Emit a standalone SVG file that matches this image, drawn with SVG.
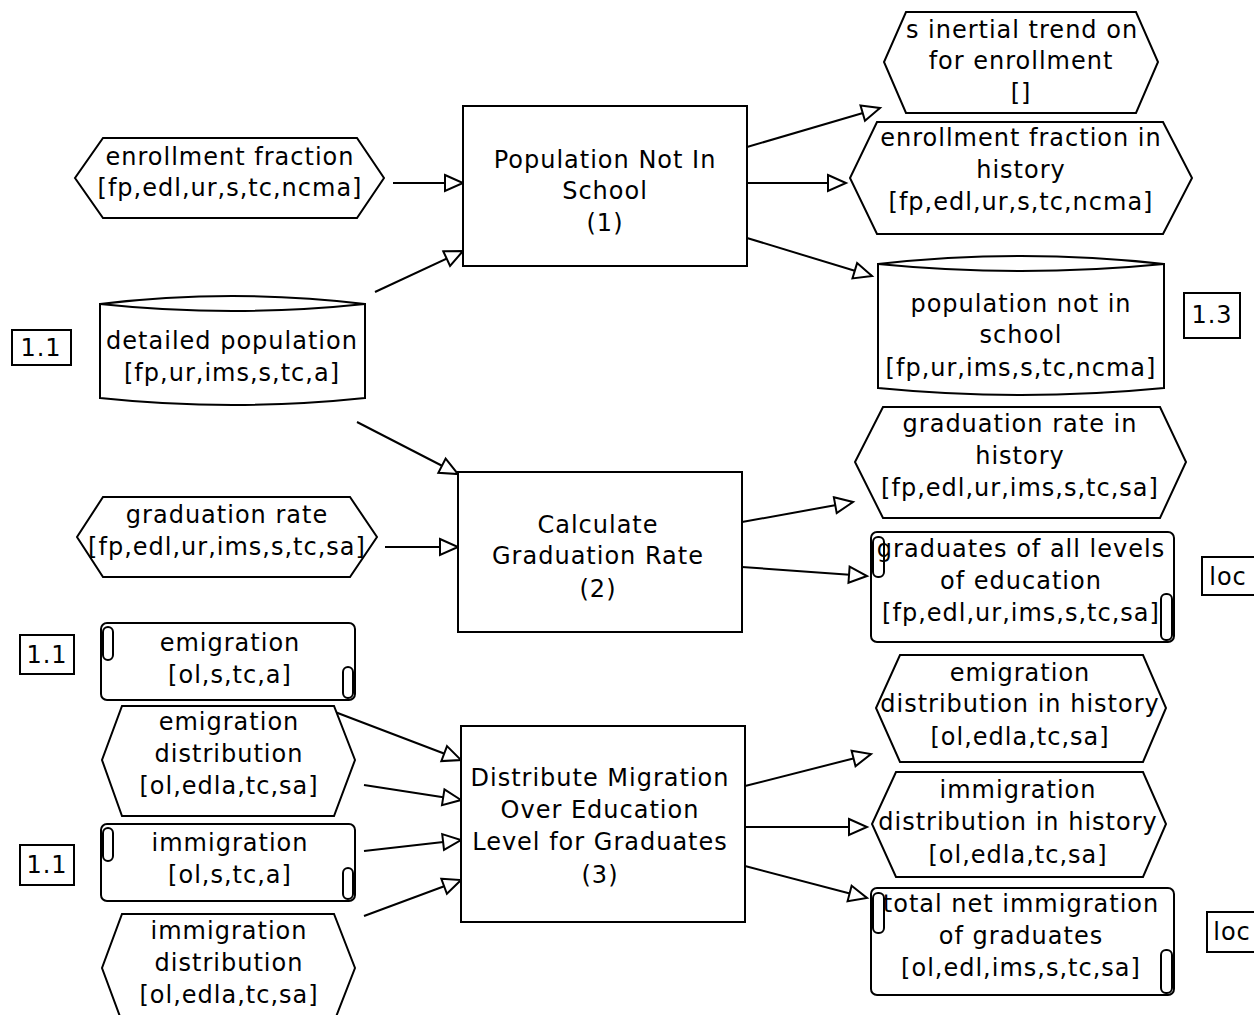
<svg xmlns="http://www.w3.org/2000/svg" width="1254" height="1015" viewBox="0 0 1254 1015">
<style>
.s{fill:#fff;stroke:#000;stroke-width:2}
.l{fill:none;stroke:#000;stroke-width:2}
.t{font-family:"DejaVu Sans","Liberation Sans",sans-serif;font-size:24px;letter-spacing:1px;fill:#000;text-anchor:middle}
.c{stroke:#000;stroke-width:2;fill:none;marker-end:url(#ah)}
</style>
<defs>
<marker id="ah" markerUnits="userSpaceOnUse" markerWidth="24" markerHeight="22" refX="19" refY="9" orient="auto" overflow="visible">
<path d="M1,1 L19,9 L1,17 Z" fill="#fff" stroke="#000" stroke-width="2"/>
</marker>
</defs>
<rect width="1254" height="1015" fill="#fff"/>

<g id="connectors">
<line class="c" x1="393" y1="183" x2="463" y2="183"/>
<line class="c" x1="375" y1="292" x2="463" y2="251"/>
<line class="c" x1="747" y1="147" x2="880" y2="108"/>
<line class="c" x1="747" y1="183" x2="846" y2="183"/>
<line class="c" x1="747" y1="238" x2="872" y2="276"/>
<line class="c" x1="357" y1="422" x2="458" y2="474"/>
<line class="c" x1="385" y1="547" x2="458" y2="547"/>
<line class="c" x1="742" y1="522" x2="853" y2="502"/>
<line class="c" x1="742" y1="567" x2="867" y2="576"/>
<line class="c" x1="335" y1="712" x2="461" y2="760"/>
<line class="c" x1="364" y1="785" x2="461" y2="800"/>
<line class="c" x1="364" y1="851" x2="461" y2="840"/>
<line class="c" x1="364" y1="916" x2="461" y2="880"/>
<line class="c" x1="745" y1="786" x2="871" y2="754"/>
<line class="c" x1="745" y1="827" x2="867" y2="827"/>
<line class="c" x1="745" y1="866" x2="867" y2="898"/>
</g>

<g id="box1">
<rect class="s" x="463" y="106" width="284" height="160"/>
<text class="t" x="605" y="168">Population Not In</text>
<text class="t" x="605" y="199">School</text>
<text class="t" x="605" y="231">(1)</text>
</g>
<g id="box2">
<rect class="s" x="458" y="472" width="284" height="160"/>
<text class="t" x="598" y="533">Calculate</text>
<text class="t" x="598" y="564">Graduation Rate</text>
<text class="t" x="598" y="597">(2)</text>
</g>
<g id="box3">
<rect class="s" x="461" y="726" width="284" height="196"/>
<text class="t" x="600" y="786">Distribute Migration</text>
<text class="t" x="600" y="818">Over Education</text>
<text class="t" x="600" y="850">Level for Graduates</text>
<text class="t" x="600" y="883">(3)</text>
</g>

<g id="enrollment-fraction">
<polygon class="s" points="103,138 357,138 384,178 357,218 103,218 75,178"/>
<text class="t" x="230" y="165">enrollment fraction</text>
<text class="t" x="230" y="196">[fp,edl,ur,s,tc,ncma]</text>
</g>

<g id="detailed-population">
<path class="s" d="M100,304 Q232,288 365,304 L365,398 Q232,412 100,398 Z"/>
<path class="l" d="M100,304 Q232,318 365,304"/>
<text class="t" x="232" y="349">detailed population</text>
<text class="t" x="232" y="381">[fp,ur,ims,s,tc,a]</text>
</g>
<g id="label-1-1-a">
<rect class="s" x="12" y="330" width="59" height="35"/>
<text class="t" x="41" y="356">1.1</text>
</g>

<g id="graduation-rate">
<polygon class="s" points="103,497 350,497 377,537 350,577 103,577 77,537"/>
<text class="t" x="227" y="523">graduation rate</text>
<text class="t" x="227" y="555">[fp,edl,ur,ims,s,tc,sa]</text>
</g>

<g id="emigration">
<rect class="s" x="101" y="623" width="254" height="77" rx="6"/>
<rect class="l" x="103" y="627" width="10" height="33" rx="5"/>
<rect class="l" x="343" y="667" width="10" height="31" rx="5"/>
<text class="t" x="230" y="651">emigration</text>
<text class="t" x="230" y="683">[ol,s,tc,a]</text>
</g>
<g id="label-1-1-b">
<rect class="s" x="20" y="635" width="54" height="39"/>
<text class="t" x="47" y="663">1.1</text>
</g>

<g id="emigration-distribution">
<polygon class="s" points="122,706 334,706 355,760 334,816 122,816 102,760"/>
<text class="t" x="229" y="730">emigration</text>
<text class="t" x="229" y="762">distribution</text>
<text class="t" x="229" y="794">[ol,edla,tc,sa]</text>
</g>

<g id="immigration">
<rect class="s" x="101" y="824" width="254" height="77" rx="6"/>
<rect class="l" x="103" y="828" width="10" height="33" rx="5"/>
<rect class="l" x="343" y="868" width="10" height="31" rx="5"/>
<text class="t" x="230" y="851">immigration</text>
<text class="t" x="230" y="883">[ol,s,tc,a]</text>
</g>
<g id="label-1-1-c">
<rect class="s" x="20" y="845" width="54" height="40"/>
<text class="t" x="47" y="873">1.1</text>
</g>

<g id="immigration-distribution">
<polygon class="s" points="122,914 334,914 355,968 334,1022 122,1022 102,968"/>
<text class="t" x="229" y="939">immigration</text>
<text class="t" x="229" y="971">distribution</text>
<text class="t" x="229" y="1003">[ol,edla,tc,sa]</text>
</g>

<g id="inertial-trend">
<polygon class="s" points="906,12 1136,12 1158,62 1136,113 906,113 884,62"/>
<text class="t" x="1022" y="38">s inertial trend on</text>
<text class="t" x="1021" y="69">for enrollment</text>
<text class="t" x="1021" y="101">[]</text>
</g>

<g id="enrollment-fraction-history">
<polygon class="s" points="877,122 1163,122 1192,178 1163,234 877,234 850,178"/>
<text class="t" x="1021" y="146">enrollment fraction in</text>
<text class="t" x="1021" y="178">history</text>
<text class="t" x="1021" y="210">[fp,edl,ur,s,tc,ncma]</text>
</g>

<g id="population-not-in-school">
<path class="s" d="M878,264 Q1021,248 1164,264 L1164,388 Q1021,402 878,388 Z"/>
<path class="l" d="M878,264 Q1021,278 1164,264"/>
<text class="t" x="1021" y="312">population not in</text>
<text class="t" x="1021" y="343">school</text>
<text class="t" x="1021" y="376">[fp,ur,ims,s,tc,ncma]</text>
</g>
<g id="label-1-3">
<rect class="s" x="1184" y="293" width="56" height="45"/>
<text class="t" x="1212" y="323">1.3</text>
</g>

<g id="graduation-rate-history">
<polygon class="s" points="883,407 1160,407 1186,462 1160,518 883,518 855,462"/>
<text class="t" x="1020" y="432">graduation rate in</text>
<text class="t" x="1020" y="464">history</text>
<text class="t" x="1020" y="496">[fp,edl,ur,ims,s,tc,sa]</text>
</g>

<g id="graduates-all-levels">
<rect class="s" x="871" y="532" width="303" height="110" rx="6"/>
<rect class="l" x="873" y="537" width="11" height="40" rx="5"/>
<rect class="l" x="1161" y="594" width="11" height="46" rx="5"/>
<text class="t" x="1021" y="557">graduates of all levels</text>
<text class="t" x="1021" y="589">of education</text>
<text class="t" x="1021" y="621">[fp,edl,ur,ims,s,tc,sa]</text>
</g>
<g id="label-loc-a">
<rect class="s" x="1202" y="557" width="62" height="38"/>
<text class="t" x="1228" y="585">loc</text>
</g>

<g id="emigration-distribution-history">
<polygon class="s" points="900,655 1143,655 1166,708 1143,762 900,762 876,708"/>
<text class="t" x="1020" y="681">emigration</text>
<text class="t" x="1020" y="712">distribution in history</text>
<text class="t" x="1020" y="745">[ol,edla,tc,sa]</text>
</g>

<g id="immigration-distribution-history">
<polygon class="s" points="896,772 1143,772 1166,824 1143,877 896,877 872,824"/>
<text class="t" x="1018" y="798">immigration</text>
<text class="t" x="1018" y="830">distribution in history</text>
<text class="t" x="1018" y="863">[ol,edla,tc,sa]</text>
</g>

<g id="total-net-immigration">
<rect class="s" x="871" y="888" width="303" height="107" rx="6"/>
<rect class="l" x="873" y="893" width="11" height="40" rx="5"/>
<rect class="l" x="1161" y="950" width="11" height="43" rx="5"/>
<text class="t" x="1021" y="912">total net immigration</text>
<text class="t" x="1021" y="944">of graduates</text>
<text class="t" x="1021" y="976">[ol,edl,ims,s,tc,sa]</text>
</g>
<g id="label-loc-b">
<rect class="s" x="1207" y="912" width="57" height="40"/>
<text class="t" x="1232" y="940">loc</text>
</g>
</svg>
